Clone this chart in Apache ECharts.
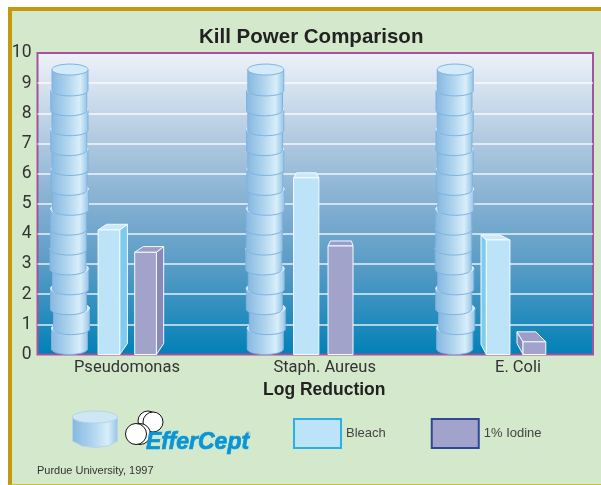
<!DOCTYPE html>
<html>
<head>
<meta charset="utf-8">
<style>
html, body { margin: 0; padding: 0; background: #fff; }
#frame { position: absolute; left: 8px; top: 7px; width: 589px; height: 473px; padding-right: 4px;
  background: #d4e8cc; border-left: 4px solid #c49a0c; border-top: 4px solid #c49a0c; border-bottom: 1px solid #cdbb3c; }
#chart { position: absolute; left: 0; top: 0; width: 601px; height: 485px; }
</style>
<script src="https://cdn.jsdelivr.net/npm/echarts@6/dist/echarts.min.js"></script>
</head>
<body>
<div id="frame"></div>
<div id="chart"></div>
<script>
// values
var categories = ['Pseudomonas', 'Staph. Aureus', 'E. Coli']
var efferCept = [9.6, 9.6, 9.6]
var bleach = [4.13, 5.86, 3.8]
var iodine = [3.39, 3.6, 0.42]
var yTicks = 10

// layout, x axis runs 0-100 over the plot width
var catX = [16.1, 51.7, 86.5]
var cylX = [5.85, 41.1, 75.2]
var bleachLeft = [10.9, 46.1, 80.8]
var bleachRight = [14.8, 50.65, 85.05]
var iodineLeft = [17.5, 52.3, 87.4]
var iodineRight = [21.4, 56.8, 91.5]
// perspective of each box in px: back-left dx, back-right dx, top dy, bottom dy
var bleachDepth = [[8.5, 7.7, -5.7, -11], [3, -2.6, -5, 0], [-5.3, -10, -5, -10]]
var iodineDepth = [[8.5, 7.3, -5.7, -11], [2.4, -1.6, -5, 0], [-6, -10, -10, -11]]
// the stack of discs is not quite straight, px, bottom to top
var discShift = [-0.5, 1.5, -1.5, 0.5, -2, -1.5, -1.5, 0.5, -1, 0, -1.25, 0, -1.25, 0]

var sans = 'Roboto, "Liberation Sans", sans-serif'
var arial = '"Liberation Sans", sans-serif'

function discGradient() {
    return new echarts.graphic.LinearGradient(0, 0, 1, 0, [
        { offset: 0, color: '#86b8e1' },
        { offset: 0.45, color: '#b0d5ee' },
        { offset: 0.78, color: '#d8eefa' },
        { offset: 1, color: '#94c3e6' }
    ])
}

function renderStack(params, api) {
    var base = api.coord([api.value(0), 0])
    var top = api.coord([api.value(0), api.value(1)])
    var rx = 18, ry = 5.5
    var n = discShift.length
    var bottom = base[1] - ry
    var pitch = (bottom - (top[1] + ry)) / n
    var children = []
    for (var i = 0; i < n; i++) {
        var cx = base[0] + discShift[i]
        var yLow = bottom - i * pitch
        var yHigh = yLow - pitch - 1
        var pts = [[cx - rx, yHigh]]
        for (var k = 0; k <= 16; k++) {
            var a = Math.PI - k / 16 * Math.PI
            pts.push([cx + rx * Math.cos(a), yLow + ry * Math.sin(a)])
        }
        pts.push([cx + rx, yHigh])
        children.push({
            type: 'polygon',
            shape: { points: pts },
            style: { fill: discGradient(), stroke: '#7fb2e0', lineWidth: 1 }
        })
        children.push({
            type: 'ellipse',
            shape: { cx: cx, cy: yHigh, rx: rx, ry: ry },
            style: { fill: '#d3ebf9', stroke: i == n - 1 ? '#7fb2e0' : '#dff1fb', lineWidth: 1 }
        })
    }
    return { type: 'group', children: children }
}

function boxRenderer(depth, front, side, lid) {
    return function (params, api) {
        var d = depth[params.dataIndex]
        var a = api.coord([api.value(0), api.value(2)])
        var b = api.coord([api.value(1), 0])
        var l = a[0], t = a[1], r = b[0], y0 = b[1]
        var style = function (c) { return { fill: c, stroke: '#f4fbff', lineWidth: 1 } }
        var children = []
        if (d[1] > 0) {
            children.push({ type: 'polygon', shape: { points: [[r, t], [r + d[1], t + d[2]], [r + d[1], y0 + d[3]], [r, y0]] }, style: style(side) })
        }
        if (d[0] < 0) {
            children.push({ type: 'polygon', shape: { points: [[l, t], [l + d[0], t + d[2]], [l + d[0], y0 + d[3]], [l, y0]] }, style: style(side) })
        }
        children.push({ type: 'polygon', shape: { points: [[l, t], [l + d[0], t + d[2]], [r + d[1], t + d[2]], [r, t]] }, style: style(lid) })
        children.push({ type: 'rect', shape: { x: l, y: t, width: r - l, height: y0 - t }, style: style(front) })
        return { type: 'group', children: children }
    }
}

function rows(left, right, values) {
    return values.map(function (v, i) { return [left[i], right[i], v] })
}

var chart = echarts.init(document.getElementById('chart'))

chart.setOption({
    animation: false,
    title: {
        text: 'Kill Power Comparison',
        left: 199,
        top: 27,
        padding: 0,
        textStyle: { fontFamily: arial, fontWeight: 'bold', fontSize: 20.5, color: '#222' }
    },
    grid: {
        left: 37.5, top: 53, width: 555.5, height: 301.5,
        show: true,
        borderColor: '#a4519f',
        borderWidth: 2,
        backgroundColor: new echarts.graphic.LinearGradient(0, 0, 0, 1, [
            { offset: 0, color: '#eef2f9' },
            { offset: 0.3, color: '#aec8df' },
            { offset: 0.5, color: '#83b0d2' },
            { offset: 0.7, color: '#5a9cc6' },
            { offset: 0.9, color: '#1f8abb' },
            { offset: 1, color: '#0080b6' }
        ])
    },
    xAxis: {
        type: 'value', min: 0, max: 100,
        axisLine: { show: false },
        axisTick: { show: false },
        splitLine: { show: false },
        axisLabel: {
            customValues: catX,
            margin: 5,
            fontFamily: sans, fontSize: 16.5, color: '#333',
            formatter: function (v) { return categories[catX.indexOf(v)] }
        },
        name: 'Log Reduction',
        nameLocation: 'middle',
        nameGap: 27,
        nameTextStyle: { fontFamily: arial, fontWeight: 'bold', fontSize: 17.5, color: '#222', padding: [0, 0, 0, 18] }
    },
    yAxis: {
        type: 'value', min: 0, max: yTicks, interval: 1,
        axisLine: { show: false },
        axisTick: { show: false },
        axisLabel: { margin: 6, fontFamily: sans, fontSize: 17.5, color: '#333' },
        splitLine: { showMinLine: false, showMaxLine: false, lineStyle: { color: 'rgba(255,255,255,0.85)', width: 1.5 } }
    },
    legend: {
        left: 293, top: 418, padding: 0,
        itemWidth: 47, itemHeight: 29, itemGap: 45,
        icon: 'rect',
        textStyle: { fontFamily: arial, fontSize: 13, color: '#444' },
        data: [
            { name: 'Bleach', itemStyle: { color: '#bce3f7', borderColor: '#2bb0e6', borderWidth: 2 } },
            { name: '1% Iodine', itemStyle: { color: '#a2a3cb', borderColor: '#2f4797', borderWidth: 2 } }
        ]
    },
    series: [{
        name: 'EfferCept',
        type: 'custom',
        renderItem: renderStack,
        encode: { x: 0, y: 1 },
        data: efferCept.map(function (v, i) { return [cylX[i], v] })
    }, {
        name: 'Bleach',
        type: 'custom',
        renderItem: boxRenderer(bleachDepth, '#bce3f7', '#7ecbf0', '#c9e9f9'),
        encode: { x: [0, 1], y: 2 },
        itemStyle: { color: '#bce3f7' },
        data: rows(bleachLeft, bleachRight, bleach)
    }, {
        name: '1% Iodine',
        type: 'custom',
        renderItem: boxRenderer(iodineDepth, '#a2a3cb', '#8889bb', '#9c9dc8'),
        encode: { x: [0, 1], y: 2 },
        itemStyle: { color: '#a2a3cb' },
        data: rows(iodineLeft, iodineRight, iodine)
    }],
    graphic: [
        // EfferCept key: tablet drum, two tablets, logo
        { type: 'polygon', shape: { points: [[72.5, 417], [72.5, 441], [82, 446], [95, 447.5], [108, 446], [117.5, 441], [117.5, 417]] },
          style: { fill: discGradient(), stroke: '#b5d3ea', lineWidth: 1 } },
        { type: 'ellipse', shape: { cx: 95, cy: 417, rx: 22.5, ry: 6 }, style: { fill: '#cfe6f5', stroke: '#b5d3ea', lineWidth: 1 } },
        { type: 'circle', shape: { cx: 148, cy: 421, r: 10 }, style: { fill: '#fff', stroke: '#111', lineWidth: 1 } },
        { type: 'circle', shape: { cx: 153, cy: 422, r: 10 }, style: { fill: '#fff', stroke: '#111', lineWidth: 1 } },
        { type: 'circle', shape: { cx: 140, cy: 434, r: 10.5 }, style: { fill: '#fff', stroke: '#111', lineWidth: 1 } },
        { type: 'circle', shape: { cx: 136, cy: 434, r: 10.5 }, style: { fill: '#fff', stroke: '#111', lineWidth: 1 } },
        { type: 'text', x: 146, y: 431, style: { text: 'EfferCept', fontFamily: arial, fontStyle: 'italic', fontWeight: 'bold', fontSize: 23, fill: '#0a96d6', stroke: '#0a96d6', lineWidth: 0.7 } },
        { type: 'text', x: 246, y: 431, style: { text: '®', fontFamily: arial, fontSize: 6, fill: '#0a96d6' } },
        { type: 'text', x: 37, y: 465, style: { text: 'Purdue University, 1997', fontFamily: arial, fontSize: 11, fill: '#333' } }
    ]
})
</script>
</body>
</html>
